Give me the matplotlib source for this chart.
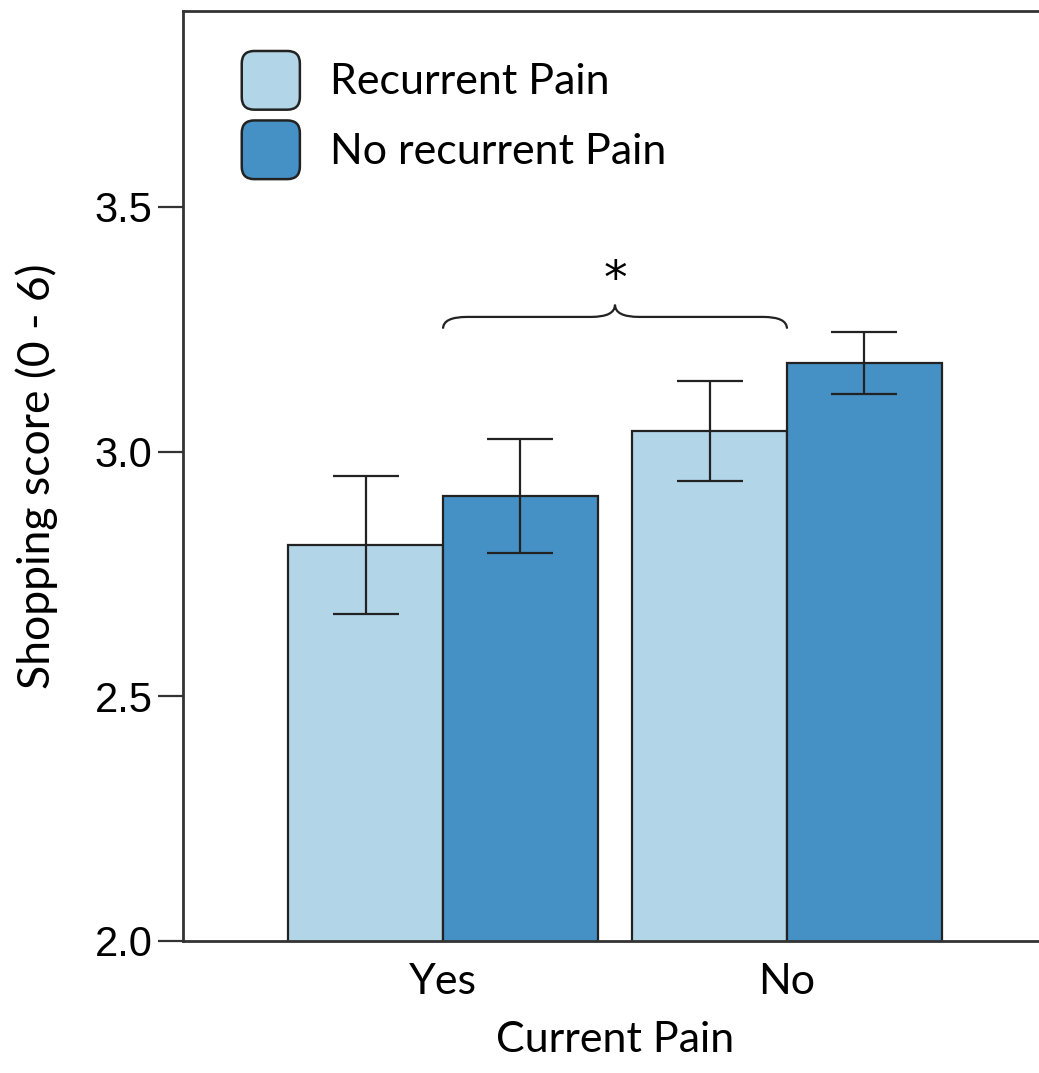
import numpy as np
import matplotlib
matplotlib.use("Agg")
from matplotlib import pyplot as plt
from matplotlib.patches import FancyBboxPatch, PathPatch, Patch
from matplotlib.path import Path
from matplotlib.legend_handler import HandlerPatch

# data
groups = ["Yes", "No"]
series = ["Recurrent Pain", "No recurrent Pain"]
means_recurrent = [2.81, 3.042]
means_no_recurrent = [2.909, 3.181]
err_recurrent = [0.141, 0.102]
err_no_recurrent = [0.117, 0.064]
colors = ["#b3d5e8", "#4591c5"]

TEXT_FONT = "Lato"
FS = 31


class RoundHandler(HandlerPatch):
    def create_artists(self, legend, orig_handle, xdescent, ydescent,
                       width, height, fontsize, trans):
        p = FancyBboxPatch((-xdescent, -ydescent), width, height,
                           boxstyle="round,pad=0,rounding_size=9",
                           facecolor=orig_handle.get_facecolor(),
                           edgecolor="#222222", linewidth=1.8, transform=trans)
        return [p]


fig = plt.figure(figsize=(10.39, 10.73), dpi=100)
ax = fig.add_axes([183 / 1039, 132 / 1073, 864 / 1039, 930 / 1073])

x = np.arange(len(groups))
w = 0.45
for i, (m, e) in enumerate([(means_recurrent, err_recurrent),
                            (means_no_recurrent, err_no_recurrent)]):
    pos = x + (i - 0.5) * w
    ax.bar(pos, m, width=w, color=colors[i], edgecolor="#222222",
           linewidth=1.6, zorder=2)
    ax.errorbar(pos, m, yerr=e, fmt="none", ecolor="#222222",
                elinewidth=1.6, capsize=24, capthick=1.6, zorder=3)

ax.set_xlim(-0.756, 1.756)
ax.set_ylim(2.0, 3.9)
ax.set_yticks([2.0, 2.5, 3.0, 3.5])
ax.set_yticklabels(["2.0", "2.5", "3.0", "3.5"], family="Liberation Sans")
ax.set_xticks(x)
ax.set_xticklabels(groups, family=TEXT_FONT)
ax.tick_params(axis="y", labelsize=30, length=18, width=1.6, pad=4,
               color="#333333")
ax.tick_params(axis="x", labelsize=FS, length=0, pad=16)
for s in ax.spines.values():
    s.set_linewidth(2)
    s.set_color("#333333")

ax.set_xlabel("Current Pain", fontsize=FS, family=TEXT_FONT, labelpad=14)
ax.set_ylabel("Shopping score (0 - 6)", fontsize=32, family=TEXT_FONT,
              labelpad=26)

# significance brace
x0, x1 = x[0], x[1]
xm = (x0 + x1) / 2
yb, yh, yt = 3.251, 3.275, 3.300
r = 0.07
codes = [Path.MOVETO, Path.CURVE3, Path.CURVE3, Path.LINETO, Path.CURVE3,
         Path.CURVE3, Path.MOVETO, Path.CURVE3, Path.CURVE3, Path.LINETO,
         Path.CURVE3, Path.CURVE3]
verts = [(x0, yb), (x0, yh), (x0 + r, yh), (xm - r, yh), (xm, yh), (xm, yt),
         (xm, yt), (xm, yh), (xm + r, yh), (x1 - r, yh), (x1, yh), (x1, yb)]
ax.add_patch(PathPatch(Path(verts, codes), facecolor="none",
                       edgecolor="#222222", linewidth=1.6, zorder=3))
ax.text(xm, 3.35, "*", ha="center", va="center", fontsize=34,
        family="DejaVu Sans")

handles = [Patch(facecolor=c) for c in colors]
ax.legend(handles, series, handler_map={Patch: RoundHandler()},
          loc="upper left", bbox_to_anchor=(0.068, 0.957),
          frameon=False, prop={"family": TEXT_FONT, "size": FS},
          handlelength=1.35, handleheight=1.72, handletextpad=0.7,
          labelspacing=0.25, borderaxespad=0, borderpad=0)

fig.savefig("out.png", dpi=100)
